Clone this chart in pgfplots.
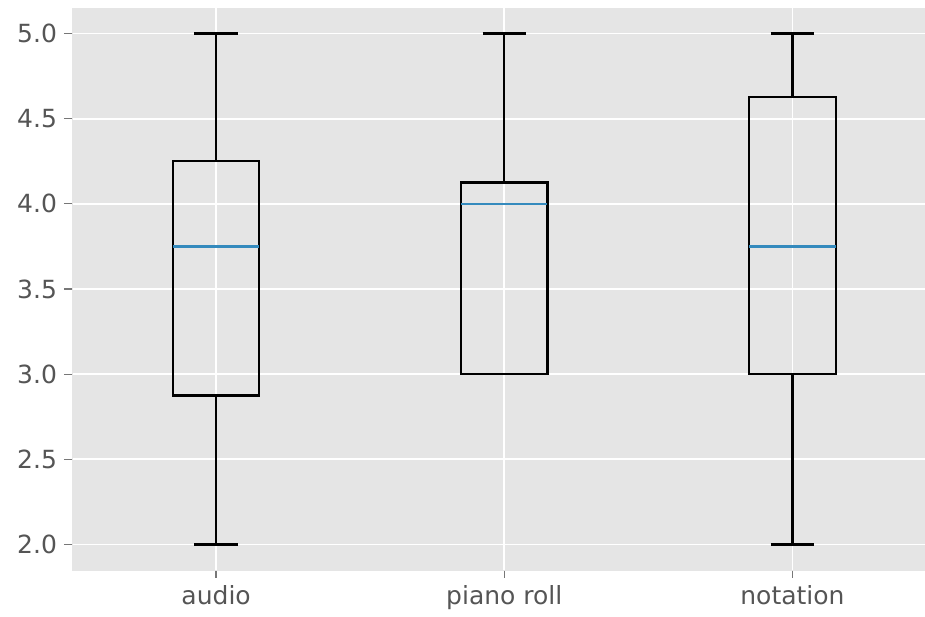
\documentclass[border=0pt]{standalone}
\usepackage{fontspec}
\setmainfont{DejaVu Sans}
\usepackage{pgfplots}
\pgfplotsset{compat=1.18}
\usepgfplotslibrary{statistics}
\definecolor{bggray}{HTML}{E5E5E5}
\definecolor{tickgray}{HTML}{555555}
\definecolor{medblue}{HTML}{348ABD}
\begin{document}
\begin{tikzpicture}
\begin{axis}[
  name=ax,
  scale only axis,
  width=426.5pt, height=281pt,
  xmin=0.5, xmax=3.46,
  ymin=1.85, ymax=5.15,
  axis background/.style={fill=bggray},
  axis x line*=bottom, axis y line*=left,
  axis line style={-, draw=bggray, line width=0.1pt},
  grid=major,
  major grid style={white, line width=0.9pt},
  tick align=outside,
  major tick length=4pt,
  every tick/.style={draw=tickgray!80, line width=0.6pt},
  xtick={1,2,3},
  xticklabels={audio, piano roll, notation},
  ytick={2,2.5,3,3.5,4,4.5,5},
  yticklabel style={/pgf/number format/.cd, fixed, fixed zerofill, precision=1},
  /pgf/number format/assume math mode=true,
  ticklabel style={font=\fontsize{12.5}{15}\selectfont, text=tickgray},
  boxplot/draw direction=y,
  boxplot/every median/.style={draw=medblue, line width=1.1pt},
  boxplot/every box/.style={draw=black, line width=1.1pt},
  boxplot/every whisker/.style={draw=black, line width=1.1pt},
]
\addplot[boxplot prepared={median=3.75, upper quartile=4.25, lower quartile=2.875,
  upper whisker=5, lower whisker=2, draw position=1, box extend=0.3, whisker extend=0.15},
  draw=black, line width=1.1pt, mark=none] coordinates {};
\addplot[boxplot prepared={median=4.0, upper quartile=4.125, lower quartile=3.0,
  upper whisker=5, lower whisker=3, draw position=2, box extend=0.3, whisker extend=0.15},
  draw=black, line width=1.1pt, mark=none] coordinates {};
\addplot[boxplot prepared={median=3.75, upper quartile=4.625, lower quartile=3.0,
  upper whisker=5, lower whisker=2, draw position=3, box extend=0.3, whisker extend=0.15},
  draw=black, line width=1.1pt, mark=none] coordinates {};
\end{axis}
\pgfresetboundingbox
\path[use as bounding box] ([shift={(-36pt,-23.5pt)}]ax.south west) rectangle ([shift={(0pt,4pt)}]ax.north east);
\end{tikzpicture}
\end{document}
